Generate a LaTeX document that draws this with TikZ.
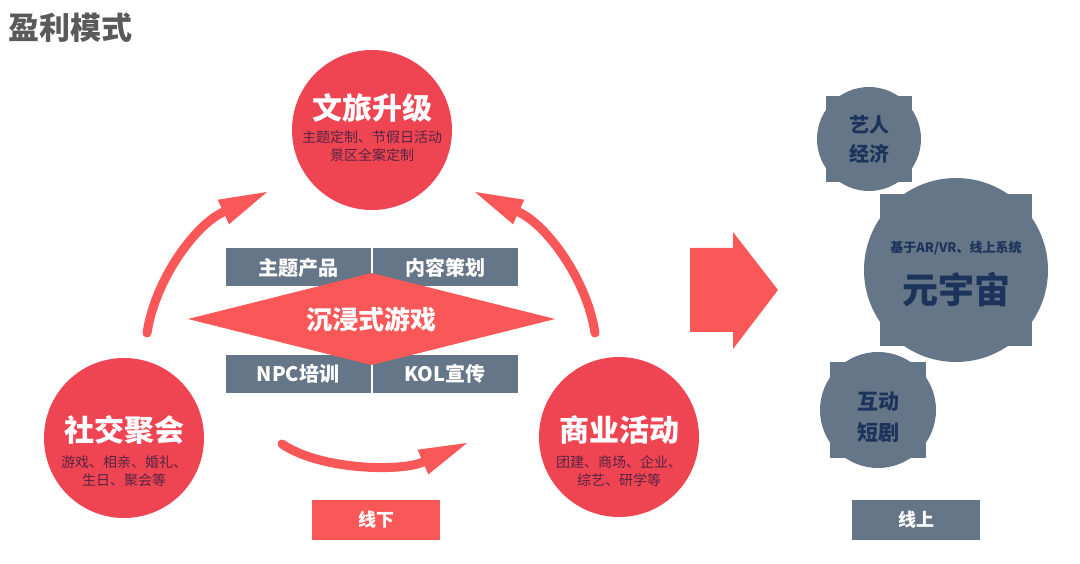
\documentclass[tikz,border=0pt]{standalone}
\usepackage{fontspec}
\setmainfont{Noto Sans CJK SC}
\usepackage{tikz}
\usetikzlibrary{
  positioning,
  arrows.meta,
  calc,
  shapes.geometric
}
\definecolor{CircRed}{RGB}{239,69,83}
\definecolor{ArrowRed}{RGB}{250,88,88}
\definecolor{SlateGray}{RGB}{100,118,135}
\definecolor{DeepNavy}{RGB}{28,52,90}
\definecolor{SubPurple}{RGB}{88,36,66}
\definecolor{TitleGray}{RGB}{90,90,90}

\begin{document}
\begin{tikzpicture}[x=1pt,y=-1pt,
  >=Stealth,
  redcirc/.style={circle, fill=CircRed, minimum size=160pt, inner sep=0pt},
  ctitle/.style={text=white, font=\fontsize{30}{30}\selectfont\bfseries},
  csub/.style={text=SubPurple, font=\fontsize{14}{18}\selectfont, align=center},
  tablecell/.style={rectangle, fill=SlateGray, draw=white, line width=1pt,
    minimum width=146pt, minimum height=39pt, inner sep=0pt,
    text=white, font=\fontsize{20}{20}\selectfont\bfseries},
  labelbox/.style={rectangle, minimum width=128pt, minimum height=40pt,
    text=white, font=\fontsize{18}{18}\selectfont\bfseries},
  curvearrow/.style={ArrowRed, line width=9pt, line cap=round,
    -{Triangle[length=48pt,width=27pt,line width=0pt]}},
  slate/.style={circle, fill=SlateGray, inner sep=0pt, text=DeepNavy, align=center}]
  \useasboundingbox (0,0) rectangle (1080,564);

  % ---------- 标题 ----------
  \node[anchor=west, text=TitleGray, font=\fontsize{31}{31}\selectfont\bfseries]
    (title) at (5,28) {盈利模式};

  % ---------- 线下：三个红圆 ----------
  \node[redcirc] (wenlv) at (372,130) {};
  \node[ctitle] (wenlvT) at ($(wenlv)+(0,-22)$) {文旅升级};
  \node[csub] (wenlvS) at ($(wenlv)+(0,16)$) {主题定制、节假日活动\\景区全案定制};

  \node[redcirc] (social) at (124,438) {};
  \node[ctitle] (socialT) at ($(social)+(0,-8)$) {社交聚会};
  \node[csub] (socialS) at ($(social)+(0,33)$) {游戏、相亲、婚礼、\\生日、聚会等};

  \node[redcirc] (biz) at (619,437) {};
  \node[ctitle] (bizT) at ($(biz)+(0,-7)$) {商业活动};
  \node[csub] (bizS) at ($(biz)+(0,34)$) {团建、商场、企业、\\综艺、研学等};

  % 中间表格 + 菱形
  \node[tablecell] (theme) at (298,267.5) {主题产品};
  \node[tablecell, right=0pt of theme] (plan) {内容策划};
  \node[tablecell] (npc) at (298,374) {NPC培训};
  \node[tablecell, right=0pt of npc] (kol) {KOL宣传};
  \node[diamond, aspect=3.99, fill=ArrowRed, minimum width=367pt, minimum height=92pt,
    inner sep=0pt, outer sep=0pt,
    text=white, font=\fontsize{26}{26}\selectfont\bfseries] (game) at (371.5,319) {沉浸式游戏};

  % 循环箭头
  \coordinate (lA) at (147,333);
  \coordinate (lB) at (267,192);
  \coordinate (rA) at (595,333);
  \coordinate (rB) at (475,192);
  \coordinate (bA) at (282,444);
  \coordinate (bB) at (467,443);
  \draw[curvearrow] (lA) .. controls (155,280) and (195,225) .. (lB);
  \draw[curvearrow] (rA) .. controls (587,280) and (547,225) .. (rB);
  \draw[curvearrow] (bA) .. controls (320,470) and (400,472) .. (bB);

  \node[labelbox, fill=ArrowRed] (offline) at (376,520) {线下};

  % ---------- 大箭头 ----------
  \fill[ArrowRed] (690,248) -- (733,248) -- (733,232) -- (778,290)
    -- (733,349) -- (733,332) -- (690,332) -- cycle;

  % ---------- 线上：灰色圆 ----------
  \fill[SlateGray] (826,96) rectangle (912,182);
  \node[slate, minimum size=104pt, font=\fontsize{20}{29}\selectfont\bfseries]
    (artist) at (869,139) {艺人\\经济};

  \fill[SlateGray] (880,194) rectangle (1032,346);
  \node[slate, minimum size=184pt] (meta) at (956,270) {};
  \node[text=DeepNavy, font=\fontsize{13}{13}\selectfont\bfseries]
    (metaS) at ($(meta)+(0,-22)$) {基于AR/VR、线上系统};
  \node[text=DeepNavy, font=\fontsize{36}{36}\selectfont\bfseries]
    (metaT) at ($(meta)+(0,20)$) {元宇宙};

  \fill[SlateGray] (830,362) rectangle (926,458);
  \node[slate, minimum size=116pt] (drama) at (878,410) {};
  \node[text=DeepNavy, align=center, font=\fontsize{21}{31}\selectfont\bfseries]
    (dramaT) at ($(drama)+(0,7)$) {互动\\短剧};

  \node[labelbox, fill=SlateGray] (online) at (916,520) {线上};
\end{tikzpicture}
\end{document}
